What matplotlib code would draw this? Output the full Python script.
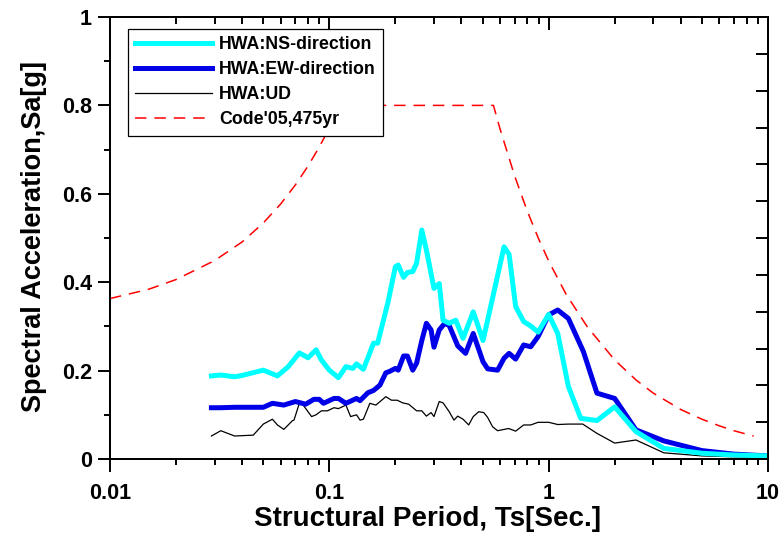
import numpy as np
import matplotlib
matplotlib.use('Agg')
import matplotlib.pyplot as plt
from matplotlib.ticker import FixedLocator, FuncFormatter, LogLocator, NullFormatter

plt.rcParams['font.family'] = ['Liberation Sans', 'DejaVu Sans']
plt.rcParams['font.weight'] = 'bold'

# HWA station, NS component
ns_period = [0.029, 0.032, 0.037, 0.04, 0.05, 0.058, 0.065, 0.073, 0.08, 0.087,
             0.092, 0.1, 0.11, 0.119, 0.128, 0.133, 0.143, 0.159, 0.166, 0.185,
             0.2, 0.206, 0.218, 0.227, 0.24, 0.25, 0.264, 0.277, 0.3, 0.317,
             0.33, 0.352, 0.377, 0.407, 0.453, 0.502, 0.544, 0.626, 0.66, 0.707,
             0.769, 0.828, 0.895, 1.0, 1.10, 1.23, 1.40, 1.66, 2.0, 2.5,
             3.35, 5.0, 7.0, 10.0]
ns_sa = [0.188, 0.19, 0.186, 0.189, 0.201, 0.188, 0.209, 0.240, 0.229, 0.247,
         0.224, 0.201, 0.184, 0.209, 0.205, 0.215, 0.203, 0.262, 0.262, 0.354,
         0.435, 0.439, 0.411, 0.422, 0.424, 0.443, 0.518, 0.473, 0.386, 0.397,
         0.314, 0.307, 0.314, 0.273, 0.333, 0.268, 0.345, 0.480, 0.463, 0.345,
         0.311, 0.301, 0.287, 0.327, 0.284, 0.164, 0.092, 0.087, 0.118, 0.062,
         0.024, 0.013, 0.009, 0.007]

# HWA station, EW component
ew_period = [0.029, 0.032, 0.037, 0.05, 0.055, 0.062, 0.07, 0.078, 0.085, 0.09,
             0.094, 0.105, 0.11, 0.119, 0.133, 0.138, 0.15, 0.159, 0.17, 0.181,
             0.188, 0.2, 0.206, 0.218, 0.227, 0.24, 0.25, 0.264, 0.277, 0.291,
             0.3, 0.317, 0.336, 0.352, 0.385, 0.418, 0.453, 0.502, 0.527, 0.585,
             0.626, 0.66, 0.707, 0.769, 0.828, 0.895, 1.0, 1.10, 1.23, 1.44,
             1.66, 2.0, 2.5, 3.35, 5.0, 7.0, 10.0]
ew_sa = [0.116, 0.116, 0.117, 0.117, 0.126, 0.122, 0.130, 0.124, 0.135, 0.135,
         0.126, 0.137, 0.137, 0.126, 0.137, 0.132, 0.150, 0.155, 0.167, 0.195,
         0.198, 0.205, 0.201, 0.233, 0.233, 0.201, 0.217, 0.268, 0.307, 0.292,
         0.253, 0.292, 0.307, 0.302, 0.256, 0.239, 0.284, 0.220, 0.204, 0.201,
         0.228, 0.239, 0.226, 0.258, 0.254, 0.277, 0.326, 0.337, 0.318, 0.243,
         0.149, 0.137, 0.066, 0.041, 0.019, 0.011, 0.007]

# HWA station, vertical component
ud_period = [0.029, 0.032, 0.037, 0.045, 0.05, 0.055, 0.058, 0.062, 0.068, 0.069,
             0.073, 0.076, 0.083, 0.087, 0.092, 0.098, 0.105, 0.11, 0.119, 0.125,
             0.133, 0.138, 0.143, 0.153, 0.163, 0.181, 0.192, 0.204, 0.216, 0.23,
             0.25, 0.264, 0.277, 0.291, 0.3, 0.317, 0.33, 0.352, 0.37, 0.385,
             0.407, 0.432, 0.453, 0.48, 0.506, 0.527, 0.555, 0.585, 0.657, 0.707,
             0.769, 0.828, 0.895, 1.0, 1.10, 1.23, 1.43, 1.66, 2.0, 2.5,
             3.35, 5.0, 7.0, 10.0]
ud_sa = [0.052, 0.064, 0.052, 0.054, 0.079, 0.090, 0.077, 0.067, 0.087, 0.088,
         0.126, 0.122, 0.096, 0.100, 0.109, 0.109, 0.116, 0.114, 0.122, 0.096,
         0.100, 0.088, 0.090, 0.126, 0.122, 0.141, 0.133, 0.133, 0.127, 0.124,
         0.109, 0.109, 0.097, 0.105, 0.096, 0.130, 0.127, 0.107, 0.088, 0.097,
         0.090, 0.077, 0.096, 0.107, 0.105, 0.094, 0.073, 0.064, 0.069, 0.063,
         0.077, 0.077, 0.083, 0.083, 0.078, 0.079, 0.079, 0.058, 0.036, 0.043,
         0.014, 0.007, 0.005, 0.004]

# design spectrum, code 2005, 475 yr return period
code_period = [0.01, 0.015, 0.02, 0.03, 0.04, 0.05, 0.06, 0.07, 0.08, 0.09,
               0.1, 0.112, 0.56, 0.6, 0.7, 0.8, 0.9, 1.0, 1.2, 1.5,
               2.0, 2.5, 3.0, 4.0, 5.0, 6.0, 7.0, 8.0, 8.6]
code_sa = [0.363, 0.384, 0.406, 0.449, 0.491, 0.534, 0.577, 0.620, 0.663, 0.706,
           0.749, 0.80, 0.80, 0.747, 0.640, 0.560, 0.498, 0.448, 0.373, 0.299,
           0.224, 0.179, 0.149, 0.112, 0.090, 0.075, 0.064, 0.056, 0.052]

x_major = [0.01, 0.1, 1, 10]

fig = plt.figure(figsize=(7.82, 5.4), dpi=100)
ax = fig.add_axes([110 / 782, 81 / 540, 658 / 782, 442 / 540])

ax.plot(ns_period, ns_sa, color='#00ffff', lw=3.6, label='HWA:NS-direction', zorder=4)
ax.plot(ew_period, ew_sa, color='#0000e8', lw=3.6, label='HWA:EW-direction', zorder=3)
ax.plot(ud_period, ud_sa, color='black', lw=0.9, label='HWA:UD', zorder=2)
ax.plot(code_period, code_sa, color='red', lw=1.1, dashes=(7.5, 5.2),
        label="Code'05,475yr", zorder=2)

ax.set_xscale('log')
ax.set_xlim(0.01, 10)
ax.set_ylim(0, 1)

ax.xaxis.set_major_locator(FixedLocator(x_major))
ax.xaxis.set_major_formatter(FuncFormatter(lambda v, p: f'{v:g}'))
ax.xaxis.set_minor_locator(LogLocator(base=10, subs=np.arange(2, 10)))
ax.xaxis.set_minor_formatter(NullFormatter())
ax.yaxis.set_major_locator(FixedLocator(np.arange(0, 1.01, 0.2)))
ax.yaxis.set_major_formatter(FuncFormatter(lambda v, p: f'{v:g}'))
ax.yaxis.set_minor_locator(FixedLocator(np.arange(0.1, 1.0, 0.2)))

ax.tick_params(which='both', direction='out', width=1.4, labelsize=15.5,
               top=False, right=False)
ax.tick_params(which='major', length=9)
ax.tick_params(which='minor', length=4.5)
ax.tick_params(axis='x', pad=8)
ax.tick_params(axis='y', pad=4)
for spine in ax.spines.values():
    spine.set_linewidth(1.4)

# inward ticks on the top edge
top = ax.twiny()
top.set_xscale('log')
top.set_xlim(ax.get_xlim())
top.xaxis.set_major_locator(FixedLocator(x_major))
top.xaxis.set_minor_locator(LogLocator(base=10, subs=np.arange(2, 10)))
top.xaxis.set_minor_formatter(NullFormatter())
top.tick_params(which='both', direction='in', width=1.4, labeltop=False)
top.tick_params(which='major', length=9)
top.tick_params(which='minor', length=5)

# inward ticks on the right edge
right = ax.twinx()
right.set_ylim(ax.get_ylim())
right.yaxis.set_major_locator(FixedLocator(np.linspace(0, 1, 13)))
right.tick_params(direction='in', length=8.5, width=1.4, labelright=False)
for t in (top, right):
    for spine in t.spines.values():
        spine.set_linewidth(1.4)

ax.set_xlabel('Structural Period, Ts[Sec.]', fontsize=20, fontweight='bold')
ax.set_ylabel('Spectral Acceleration,Sa[g]', fontsize=19.5, fontweight='bold')
ax.xaxis.set_label_coords(0.4825, -0.106)
ax.yaxis.set_label_coords(-0.096, 0.504)

leg = right.legend(*ax.get_legend_handles_labels(), loc='upper left',
                   bbox_to_anchor=(0.027, 0.973), borderaxespad=0,
                   fontsize=12.8, handlelength=4.3, handletextpad=0.4, borderpad=0.42,
                   labelspacing=0.45, fancybox=False, framealpha=1, edgecolor='black')
leg.get_frame().set_linewidth(0.9)

fig.savefig('out.png', dpi=100)
